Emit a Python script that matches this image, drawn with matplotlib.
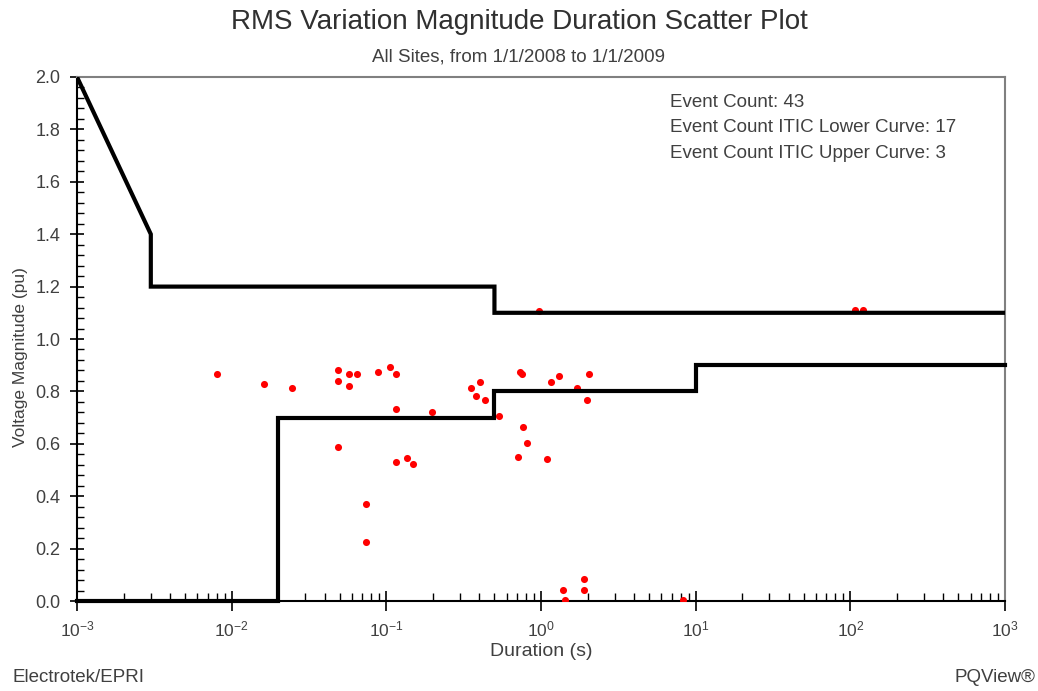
import numpy as np
import matplotlib.pyplot as plt
from matplotlib.ticker import LogLocator, MultipleLocator, FixedLocator

plt.rcParams['font.family'] = ['Liberation Sans', 'DejaVu Sans']
plt.rcParams['mathtext.fontset'] = 'custom'
plt.rcParams['mathtext.rm'] = 'Liberation Sans'
plt.rcParams['mathtext.it'] = 'Liberation Sans:italic'
plt.rcParams['mathtext.default'] = 'regular'

# ITIC curves (duration s, voltage pu)
upper_t = [0.001, 0.003, 0.003, 0.5, 0.5, 1000]
upper_v = [2.0, 1.4, 1.2, 1.2, 1.1, 1.1]
lower_t = [0.001, 0.02, 0.02, 0.5, 0.5, 10, 10, 1000]
lower_v = [0.0, 0.0, 0.7, 0.7, 0.8, 0.8, 0.9, 0.9]

# events
dur = [0.00803, 0.0162, 0.0244, 0.0489, 0.0489, 0.057, 0.057, 0.0648, 0.0884,
       0.1055, 0.1148, 0.1148, 0.196, 0.0489, 0.1148, 0.136, 0.148, 0.0738,
       0.0738,
       0.969, 0.731, 0.753, 0.403, 0.354, 0.381, 0.436, 0.537, 1.153, 1.31,
       2.05, 1.70, 1.98, 0.768, 0.811, 0.710, 1.097,
       1.38, 1.42, 1.89, 1.89, 8.3,
       108, 121]
mag = [0.866, 0.828, 0.814, 0.882, 0.840, 0.866, 0.821, 0.866, 0.873,
       0.894, 0.866, 0.734, 0.721, 0.589, 0.531, 0.545, 0.523, 0.371,
       0.226,
       1.108, 0.875, 0.866, 0.835, 0.814, 0.781, 0.767, 0.707, 0.835, 0.860,
       0.866, 0.812, 0.767, 0.663, 0.602, 0.550, 0.543,
       0.042, 0.003, 0.083, 0.042, 0.003,
       1.111, 1.111]

info = ["Event Count: 43",
        "Event Count ITIC Lower Curve: 17",
        "Event Count ITIC Upper Curve: 3"]

txt = "#404040"

fig = plt.figure(figsize=(10.38, 6.91), dpi=100)
ax = fig.add_axes([0.0742, 0.1302, 0.8940, 0.7584])

ax.scatter(dur, mag, s=26, c="red", zorder=3, linewidths=0)
ax.plot(upper_t, upper_v, c="k", lw=3, zorder=4, solid_joinstyle="miter")
ax.plot(lower_t, lower_v, c="k", lw=3, zorder=4, solid_joinstyle="miter",
        clip_on=False)

ax.set_xscale("log")
ax.set_xlim(1e-3, 1e3)
ax.set_ylim(0, 2.0)

ax.xaxis.set_major_locator(FixedLocator([1e-3, 1e-2, 1e-1, 1, 10, 100, 1000]))
ax.xaxis.set_minor_locator(LogLocator(base=10, subs=np.arange(2, 10), numticks=20))
ax.set_xticklabels([r"$10^{-3}$", r"$10^{-2}$", r"$10^{-1}$", r"$10^{0}$",
                    r"$10^{1}$", r"$10^{2}$", r"$10^{3}$"])
ax.yaxis.set_major_locator(MultipleLocator(0.2))
ax.yaxis.set_minor_locator(MultipleLocator(0.04))
ax.yaxis.set_major_formatter(plt.FormatStrFormatter("%.1f"))

ax.tick_params(axis="x", which="major", direction="inout", length=14, width=1.2,
               labelsize=12.5, labelcolor=txt, pad=6)
ax.tick_params(axis="x", which="minor", direction="in", length=6, width=1)
ax.tick_params(axis="y", which="major", direction="inout", length=10, width=1.2,
               labelsize=13, labelcolor=txt, pad=7)
ax.tick_params(axis="y", which="minor", direction="in", length=5, width=1)

for s in ["left", "bottom"]:
    ax.spines[s].set_linewidth(1.5)
    ax.spines[s].set_color("k")
for s in ["top", "right"]:
    ax.spines[s].set_linewidth(1.5)
    ax.spines[s].set_color("#808080")

ax.set_xlabel("Duration (s)", fontsize=14, color=txt, labelpad=3)
ax.set_ylabel("Voltage Magnitude (pu)", fontsize=12.5, color=txt)
ax.yaxis.set_label_coords(-0.053, 0.465)

ax.text(0.639, 0.968, "\n".join(info), transform=ax.transAxes, va="top",
        ha="left", fontsize=13.5, color=txt, linespacing=1.65)

fig.text(0.5, 0.968, "RMS Variation Magnitude Duration Scatter Plot",
         ha="center", va="center", fontsize=20, color="#303030")
fig.text(0.5, 0.9175, "All Sites, from 1/1/2008 to 1/1/2009",
         ha="center", va="center", fontsize=13.5, color=txt)
fig.text(0.0125, 0.019, "Electrotek/EPRI", ha="left", va="center",
         fontsize=13.5, color=txt)
fig.text(0.997, 0.019, "PQView\u00ae", ha="right", va="center",
         fontsize=13.5, color=txt)

fig.savefig("out.png", dpi=100)
